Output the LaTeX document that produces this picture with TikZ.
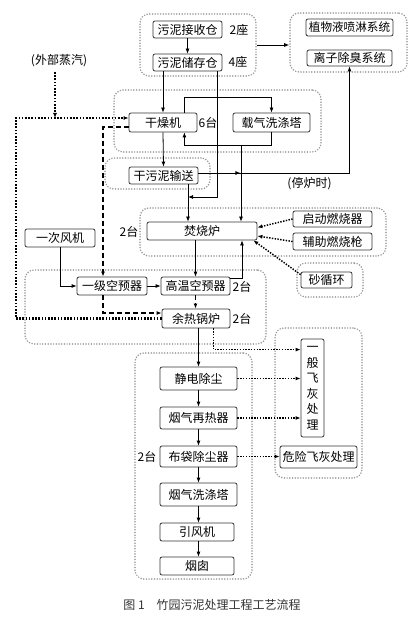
\documentclass[tikz,border=0pt]{standalone}
\usepackage{fontspec}
\setmainfont{Noto Sans CJK SC}
\usetikzlibrary{arrows.meta,calc,fit}
\tikzset{
  box/.style={draw=black!80, line width=0.8pt, rounded corners=2pt, inner sep=0pt, fill=white,
    font=\fontsize{12}{14}\selectfont},
  lbl/.style={inner sep=0pt, font=\fontsize{12}{14}\selectfont},
  grp/.style={draw=black!40, line width=1.7pt, dash pattern=on 0pt off 2.7pt, line cap=round,
    rounded corners=9pt, inner sep=0pt},
  tip/.style={-{Latex[length=5pt,width=4pt]}},
  arr/.style={tip, line width=0.8pt, draw=black},
  steamline/.style={line width=2.2pt, dash pattern=on 1.6pt off 1.6pt, draw=black},
  steamarr/.style={steamline, tip},
  ash/.style={tip, line width=1.5pt, dash pattern=on 1.4pt off 1.4pt, draw=black},
  dsh/.style={tip, line width=1.1pt, dash pattern=on 5pt off 3pt, draw=black},
}
\begin{document}
\begin{tikzpicture}[x=1pt,y=-1pt]
\useasboundingbox (0,0) rectangle (418,617);
\fill[white] (0,0) rectangle (418,617);

% groups
\node[grp, fit={(140,14)(256,76)}] (G1) {};
\node[grp, fit={(290,13)(407,72)}] (G2) {};
\node[grp, fit={(114,90)(321,152)}] (G3) {};
\node[grp, fit={(105,158)(210,189)}] (G4) {};
\node[grp, fit={(140,208)(386,256)}] (G5) {};
\node[grp, fit={(297,263)(363,297)}] (G6) {};
\node[grp, fit={(25,270)(266,344)}] (G7) {};
\node[grp, fit={(135,353)(252,579)}] (G8) {};
\node[grp, fit={(275,328)(362,478)}] (G9) {};

% boxes
\node[box, minimum width=69pt, minimum height=17pt] (rec) at (187.5,29.5) {污泥接收仓};
\node[box, minimum width=69pt, minimum height=17pt] (sto) at (187.5,62.5) {污泥储存仓};
\node[lbl] (n2z) at (239,30) {2座};
\node[lbl] (n4z) at (238,62) {4座};
\node[box, minimum width=87pt, minimum height=17pt, font=\fontsize{11.6}{14}\selectfont] (plant) at (349.5,27.5) {植物液喷淋系统};
\node[box, minimum width=85pt, minimum height=16pt] (ion) at (349.5,58) {离子除臭系统};
\node[lbl] (steam) at (59,61) {(外部蒸汽)};
\node[box, minimum width=68pt, minimum height=19pt] (dry) at (163,122.5) {干燥机};
\node[lbl] (n6t) at (208,122.5) {6台};
\node[box, minimum width=77pt, minimum height=19pt] (wash) at (271.5,122.5) {载气洗涤塔};
\node[box, minimum width=69pt, minimum height=17pt] (dconv) at (163.5,175.5) {干污泥输送};
\node[lbl] (stop) at (309.5,184) {(停炉时)};
\node[box, minimum width=110pt, minimum height=18pt] (inc) at (202,231) {焚烧炉};
\node[lbl] (n2a) at (129,232) {2台};
\node[box, minimum width=79pt, minimum height=16pt] (start) at (332.5,219) {启动燃烧器};
\node[box, minimum width=79pt, minimum height=17pt] (aux) at (332.5,241.5) {辅助燃烧枪};
\node[box, minimum width=51pt, minimum height=16pt] (sand) at (326.5,280) {砂循环};
\node[box, minimum width=70pt, minimum height=18pt] (fan) at (60,238) {一次风机};
\node[box, minimum width=70pt, minimum height=18pt] (ap1) at (112,286) {一级空预器};
\node[box, minimum width=69pt, minimum height=18pt] (ap2) at (195.5,286) {高温空预器};
\node[lbl] (n2b) at (242,287) {2台};
\node[box, minimum width=68pt, minimum height=19pt] (whb) at (196,318.5) {余热锅炉};
\node[lbl] (n2c) at (242,318.5) {2台};
\node[box, minimum width=77pt, minimum height=23pt] (esp) at (198.5,378.5) {静电除尘};
\node[box, minimum width=77pt, minimum height=22pt] (reh) at (198.5,418) {烟气再热器};
\node[box, minimum width=77pt, minimum height=21pt] (bag) at (198.5,456.5) {布袋除尘器};
\node[lbl] (n2d) at (147,456.5) {2台};
\node[box, minimum width=77pt, minimum height=23pt] (fgw) at (198.5,494.5) {烟气洗涤塔};
\node[box, minimum width=74pt, minimum height=18pt] (idf) at (197,532) {引风机};
\node[box, minimum width=74pt, minimum height=18pt] (chim) at (197,566) {烟囱};
\node[box, minimum width=23pt, minimum height=98pt, align=center,
      font=\fontsize{12}{15.5}\selectfont] (gash) at (312.5,388) {一\\般\\飞\\灰\\处\\理};
\node[box, minimum width=77pt, minimum height=22pt] (hash) at (318.5,457) {危险飞灰处理};
\node[lbl, text=black!80] (cap) at (212,605) {图 1\quad 竹园污泥处理工程工艺流程};

% junction coordinates
\coordinate (j1) at (188,197);
\coordinate (j2) at (241,145);
\coordinate (sx) at (16,118);
\coordinate (s1) at (55,72);
\coordinate (s2) at (55,118);
\coordinate (d1) at ($(dconv.east)+(0,-2.5)$);
\coordinate (d2) at ($(d1)+(42,0)$);

% connectors
\draw[arr] (rec.south) -- (sto.north);
\draw[arr] (G1.east) -- (G2.west |- G1.east);
\draw[arr] (sto.south -| dry.north) -- (dry.north);
\draw[arr] ($(sto.south east)+(-5,0)$) |- (j1);
\draw[arr] (dry.south) -- (dconv.north);
\draw[arr] (dconv.south -| j1) -- (inc.north -| j1);
\draw[arr] ($(dry.north east)+(-13,0)$) -- ++(0,-15) -| (wash.north);
\draw[arr] (wash.south) |- ($(dry.south east)+(-13,13)$) -- ($(dry.south east)+(-13,0)$);
\draw[arr] (j2) -- (inc.north -| j2);
\draw[arr] (d1) -| (ion.south);
\draw[arr] (d1) -- (d2);

% steam
\draw[steamarr] (whb.west) -| (sx) -- ($(dry.west)+(0,-4.5)$);
\draw[steamarr] (s1) -- (s2);

% dashed
\draw[dsh] ($(dry.west)+(0,4.5)$) -| ($(ap1.north)+(-9,0)$);
\draw[dsh] ($(ap1.south)+(-9,0)$) |- ($(whb.west)+(0,-5.5)$);
\draw[dsh] (ap2.south) -- (whb.north -| ap2.south);

% air
\draw[arr] (fan.south) |- (ap1.west);
\draw[arr] (ap1.east) -- (ap2.west);
\draw[arr] (inc.south -| ap2.north) -- (ap2.north);
\draw[arr] ($(ap2.north east)+(0,2)$) -| ($(inc.south)+(40,0)$);

% fuel / sand
\draw[ash] (start.west) -- ($(inc.east)+(0,-3.5)$);
\draw[ash] (aux.west) -- ($(inc.east)+(0,5)$);
\draw[ash] ($(sand.north west)+(0,3)$) -- ($(inc.south east)+(-4,0)$);

% flue gas chain
\draw[arr] (whb.south -| esp.north) -- (esp.north);
\draw[arr] (esp.south) -- (reh.north);
\draw[arr] (reh.south) -- (bag.north);
\draw[arr] (bag.south) -- (fgw.north);
\draw[arr] (fgw.south) -- (idf.north -| fgw.south);
\draw[arr] (idf.south -| fgw.south) -- (chim.north -| fgw.south);

% ash
\draw[ash] ($(whb.south east)+(-17,0)$) |- ($(gash.north west)+(0,11)$);
\draw[ash] (esp.east) -- (gash.west |- esp.east);
\draw[ash] (reh.east) -- (gash.west |- reh.east);
\draw[ash] (bag.east) -- (hash.west |- bag.east);
\end{tikzpicture}
\end{document}
